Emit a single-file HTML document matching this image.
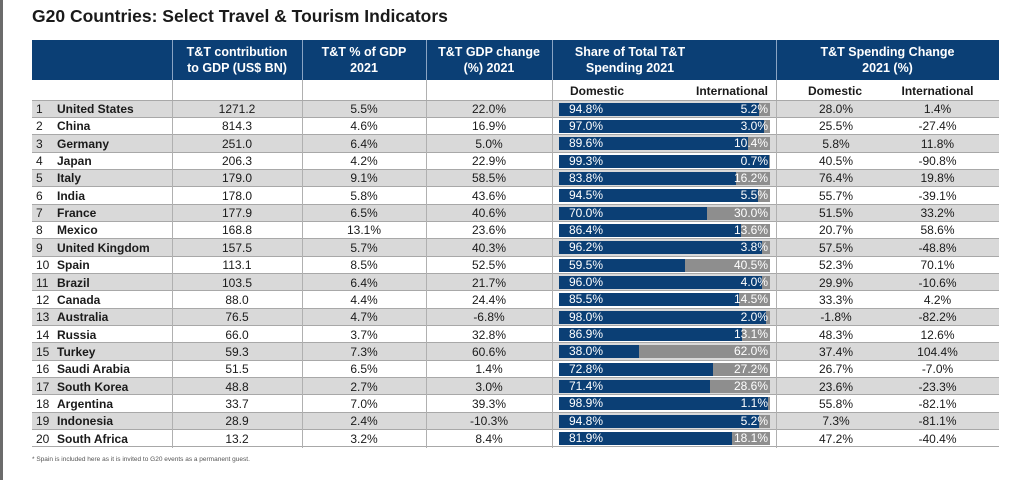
<!DOCTYPE html>
<html><head><meta charset="utf-8"><style>
body{margin:0;width:1024px;height:480px;background:#fff;position:relative;overflow:hidden;font-family:"Liberation Sans",sans-serif;}
.a{position:absolute;white-space:nowrap;}
#lb{position:absolute;left:0;top:0;width:3px;height:480px;background:#6b6b6b;}
#title{left:32px;top:6px;font-size:17.5px;font-weight:bold;color:#1a1a1a;}
#hdr{left:32px;top:40px;width:967px;height:40px;background:#0b3f75;}
.hd{position:absolute;color:#fff;font-weight:bold;font-size:12.5px;text-align:center;line-height:16px;top:44px;}
.vl{position:absolute;width:1px;background:#b5b5b5;}
.hvl{position:absolute;width:1px;background:#8aa4c4;top:40px;height:40px;}
.sh{position:absolute;top:84px;font-size:12px;font-weight:bold;color:#1a1a1a;}
.cell{position:absolute;font-size:12px;color:#1a1a1a;text-align:center;}
</style></head><body>
<div id="lb"></div>
<div class="a" id="title">G20 Countries: Select Travel &amp; Tourism Indicators</div>
<div class="a" id="hdr"></div>
<div class="hd" style="left:172px;width:130px">T&amp;T contribution<br>to GDP (US$ BN)</div>
<div class="hd" style="left:302px;width:124px">T&amp;T % of GDP<br>2021</div>
<div class="hd" style="left:426px;width:126px">T&amp;T GDP change<br>(%) 2021</div>
<div class="hd" style="left:560px;width:140px">Share of Total T&amp;T<br>Spending 2021</div>
<div class="hd" style="left:776px;width:223px">T&amp;T Spending Change<br>2021 (%)</div>
<div class="hvl" style="left:172px"></div><div class="hvl" style="left:302px"></div><div class="hvl" style="left:426px"></div><div class="hvl" style="left:552px"></div><div class="hvl" style="left:776px"></div>
<div class="sh" style="left:570px">Domestic</div>
<div class="sh" style="left:690px;width:78px;text-align:right">International</div>
<div class="sh" style="left:795px;width:80px;text-align:center">Domestic</div>
<div class="sh" style="left:890px;width:95px;text-align:center">International</div>
<div id="rows"></div>
<div class="a" style="left:32px;top:456px;font-size:6.5px;color:#555">* Spain is included here as it is invited to G20 events as a permanent guest.</div>
<script>
const countries=["United States","China","Germany","Japan","Italy","India","France","Mexico","United Kingdom","Spain","Brazil","Canada","Australia","Russia","Turkey","Saudi Arabia","South Korea","Argentina","Indonesia","South Africa"];
const contribution=["1271.2","814.3","251.0","206.3","179.0","178.0","177.9","168.8","157.5","113.1","103.5","88.0","76.5","66.0","59.3","51.5","48.8","33.7","28.9","13.2"];
const pctGdp=["5.5%","4.6%","6.4%","4.2%","9.1%","5.8%","6.5%","13.1%","5.7%","8.5%","6.4%","4.4%","4.7%","3.7%","7.3%","6.5%","2.7%","7.0%","2.4%","3.2%"];
const gdpChange=["22.0%","16.9%","5.0%","22.9%","58.5%","43.6%","40.6%","23.6%","40.3%","52.5%","21.7%","24.4%","-6.8%","32.8%","60.6%","1.4%","3.0%","39.3%","-10.3%","8.4%"];
const domesticShare=[94.8,97.0,89.6,99.3,83.8,94.5,70.0,86.4,96.2,59.5,96.0,85.5,98.0,86.9,38.0,72.8,71.4,98.9,94.8,81.9];
const domChange=["28.0%","25.5%","5.8%","40.5%","76.4%","55.7%","51.5%","20.7%","57.5%","52.3%","29.9%","33.3%","-1.8%","48.3%","37.4%","26.7%","23.6%","55.8%","7.3%","47.2%"];
const intlChange=["1.4%","-27.4%","11.8%","-90.8%","19.8%","-39.1%","33.2%","58.6%","-48.8%","70.1%","-10.6%","4.2%","-82.2%","12.6%","104.4%","-7.0%","-23.3%","-82.1%","-81.1%","-40.4%"];
const R=document.getElementById('rows');
const top0=100.5,rh=17.35,barX=559,barW=211;
function mk(html,css){const d=document.createElement('div');d.style.cssText=css;d.innerHTML=html;R.appendChild(d);return d;}
countries.forEach((c,i)=>{
  const y=top0+i*rh;
  const row=mk('', `position:absolute;left:32px;top:${y}px;width:967px;height:${rh-1}px;background:${i%2==0?'#d9d9d9':'#fff'};border-bottom:1px solid #a8a8a8;`);
  
  
  const ty=y+1.5;
  const rk=mk(String(i+1),`position:absolute;left:36px;top:${ty}px;font-size:12px;color:#1a1a1a;`);
  
  
  const nm=mk(c,`position:absolute;left:57px;top:${ty}px;font-size:12px;font-weight:bold;color:#1a1a1a;`);
  
  
  const cols=[[172,130,contribution[i]],[302,124,pctGdp[i]],[426,126,gdpChange[i]],[776,120,domChange[i]],[890,95,intlChange[i]]];
  cols.forEach(([x,w,t])=>{
    const e=mk(t,`position:absolute;left:${x}px;width:${w}px;top:${ty}px;font-size:12px;color:#1a1a1a;text-align:center;`);
    
    
  });
  const by=y+2;
  const g=mk('',`position:absolute;left:${barX}px;top:${by}px;width:${barW}px;height:13px;background:#8e8e8e;`);
  
  
  const b=mk('',`position:absolute;left:${barX}px;top:${by}px;width:${barW*domesticShare[i]/100}px;height:13px;background:#0b3f75;`);
  
  
  const dl=mk(domesticShare[i].toFixed(1)+'%',`position:absolute;left:${barX+10}px;top:${by-1}px;font-size:12px;color:#fff;line-height:15px;`);
  
  
  const il=mk((100-domesticShare[i]).toFixed(1)+'%',`position:absolute;left:${barX}px;width:${barW-2}px;text-align:right;top:${by-1}px;font-size:12px;color:#fff;line-height:15px;`);
  
  
});
[[172],[302],[426],[552],[776]].forEach(([x])=>{
  const v=mk('',`position:absolute;left:${x}px;top:80px;width:1px;height:${top0+20*rh-80}px;background:#b0b0b0;`);
  
  
});
const hl=mk('',`position:absolute;left:32px;top:${top0-1}px;width:967px;height:1px;background:#a8a8a8;`);


</script>
</body></html>
